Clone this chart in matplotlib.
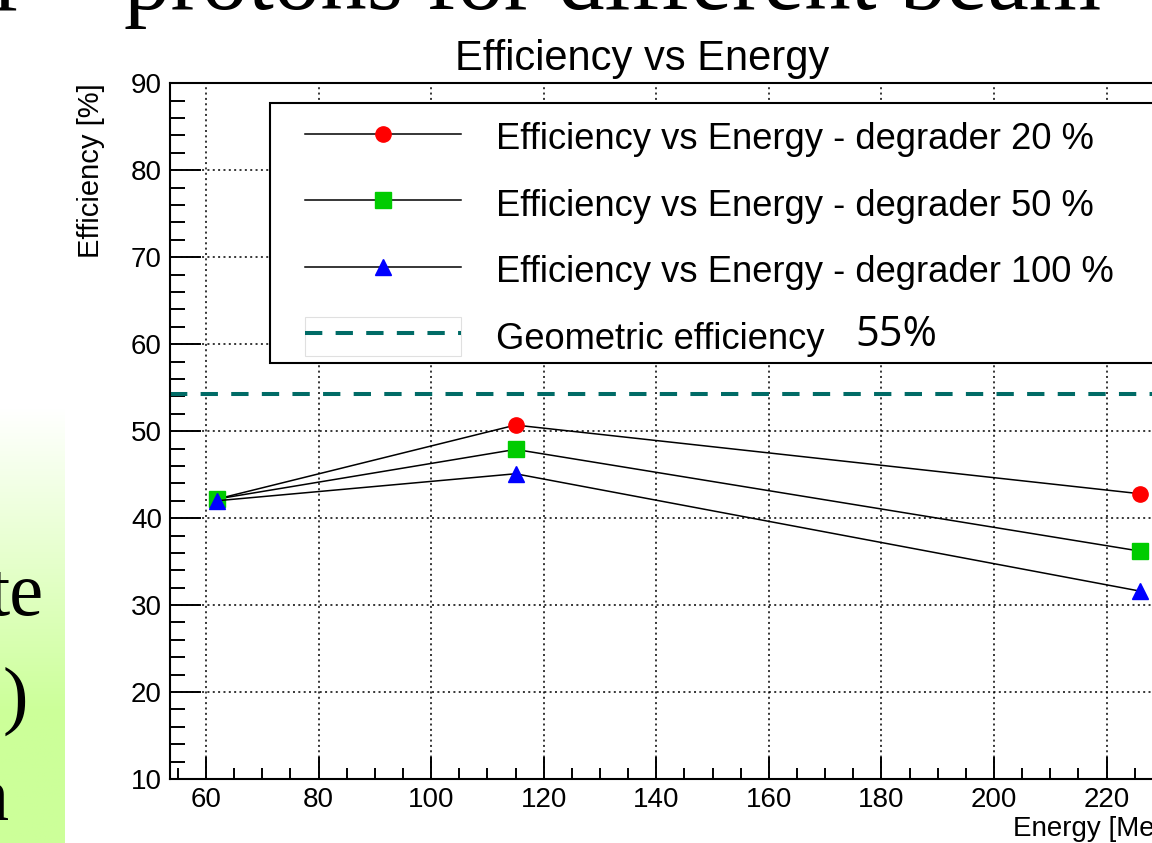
import numpy as np
import matplotlib
matplotlib.use("Agg")
import matplotlib.pyplot as plt
from matplotlib.lines import Line2D
from matplotlib.patches import Rectangle
from matplotlib.legend_handler import HandlerTuple
from matplotlib.ticker import MultipleLocator

# ---- data ----
energy = [62, 115, 226]
eff_deg20 = [42.2, 50.7, 42.8]
eff_deg50 = [42.2, 47.9, 36.2]
eff_deg100 = [42.0, 45.1, 31.6]
geometric_eff = 54.3
labels = ["Efficiency vs Energy - degrader 20 %",
          "Efficiency vs Energy - degrader 50 %",
          "Efficiency vs Energy - degrader 100 %",
          "Geometric efficiency"]

W, H = 1152, 843
DPI = 100
plt.rcParams['font.family'] = ['Liberation Sans', 'DejaVu Sans']
fig = plt.figure(figsize=(W / DPI, H / DPI), dpi=DPI)
fig.patch.set_facecolor('white')

def fx(px):
    return px / W

def fy(py):
    return 1 - py / H

# ---- slide decorations ----
fig.text(fx(24), fy(9), "r", fontsize=67, family='Liberation Serif', ha='right', va='baseline')
fig.text(fx(124), fy(9), "protons for different beam", fontsize=67,
         family='Liberation Serif', ha='left', va='baseline')

gax = fig.add_axes([0, 0, fx(65), (H - 408) / H])
grad = np.linspace(0, 1, 200)
grad = np.clip(grad / 0.7, 0, 1)[:, None]
c0 = np.array([1.0, 1.0, 1.0])
c1 = np.array([204, 255, 153]) / 255
img = c0[None, None, :] * (1 - grad[:, :, None]) + c1[None, None, :] * grad[:, :, None]
gax.imshow(img, aspect='auto', extent=[0, 1, 0, 1])
gax.axis('off')
gax.set_zorder(-5)

fig.text(fx(43), fy(615), "te", fontsize=55, family='Liberation Serif', ha='right', va='baseline')
fig.text(fx(28), fy(720), ")", fontsize=55, family='Liberation Serif', ha='right', va='baseline')
fig.text(fx(8), fy(820), "n", fontsize=55, family='Liberation Serif', ha='right', va='baseline')

# ---- main axes ----
ax_l, ax_r, ax_t, ax_b = 170.3, 1187, 83.3, 779
ax = fig.add_axes([fx(ax_l), fy(ax_b), fx(ax_r - ax_l), (ax_b - ax_t) / H])
ax.set_xlim(53.66, 234.3)
ax.set_ylim(10, 90)

ax.xaxis.set_major_locator(MultipleLocator(20))
ax.xaxis.set_minor_locator(MultipleLocator(5))
ax.yaxis.set_major_locator(MultipleLocator(10))
ax.yaxis.set_minor_locator(MultipleLocator(2))
ax.tick_params(axis='x', which='major', direction='in', length=15.8, width=1.4,
               labelsize=20, pad=6, top=False)
ax.tick_params(axis='x', which='minor', direction='in', length=7.9, width=1.4, top=False)
ax.tick_params(axis='y', which='major', direction='in', length=22.3, width=1.4,
               labelsize=20, pad=6, right=False)
ax.tick_params(axis='y', which='minor', direction='in', length=10.8, width=1.4, right=False)
for s in ax.spines.values():
    s.set_linewidth(1.5)
ax.grid(True, which='major', color='black', linestyle=(0, (1.3, 2.2)), linewidth=1.1)
ax.set_axisbelow(True)

ln1, = ax.plot(energy, eff_deg20, color='black', lw=1.1, marker='o', ms=11,
               mfc='#ff0000', mec='#ff0000', zorder=3)
ln2, = ax.plot(energy, eff_deg50, color='black', lw=1.1, marker='s', ms=11,
               mfc='#00cc00', mec='#00cc00', zorder=3)
ln3, = ax.plot(energy, eff_deg100, color='black', lw=1.1, marker='^', ms=11,
               mfc='#0000ff', mec='#0000ff', zorder=3)
geo = ax.axhline(geometric_eff, color='#006b66', lw=2.9, linestyle=(0, (4.3, 3.3)), zorder=2)

# legend frame (ROOT TLegend box)
frame = Rectangle((fx(270), fy(363)), fx(1400 - 270), (363 - 103) / H,
                  transform=fig.transFigure, facecolor='white',
                  edgecolor='black', lw=1.5, zorder=4, clip_on=False)
ax.add_artist(frame)
box = Rectangle((0, 0), 1, 1, facecolor='none', edgecolor='#e0e0e0', lw=0.8)
geo_h = Line2D([], [], color='#006b66', lw=2.9, linestyle=(0, (4.3, 3.3)))
leg = ax.legend([ln1, ln2, ln3, (box, geo_h)], labels,
                handler_map={tuple: HandlerTuple(ndivide=1, pad=0)},
                loc='upper left', bbox_to_anchor=(fx(305), fy(118)),
                bbox_transform=fig.transFigure, frameon=False,
                fontsize=26.2, handlelength=4.3, handletextpad=0.96,
                handleheight=1.25, labelspacing=0.74, borderpad=0, borderaxespad=0,
                numpoints=1)
leg.set_zorder(6)

fig.text(fx(855), fy(346), "55%", fontsize=30, family='Open Sans', ha='left',
         va='baseline', zorder=7)

# titles and axis labels
fig.text(fx(642.5), fy(70), "Efficiency vs Energy", fontsize=30, ha='center', va='baseline')
fig.text(fx(91), fy(83), "Efficiency [%]", fontsize=21, rotation=90, ha='center', va='top')
fig.text(fx(1013), fy(836), "Energy [MeV]", fontsize=20, ha='left', va='baseline')

fig.savefig("out.png", dpi=DPI)
